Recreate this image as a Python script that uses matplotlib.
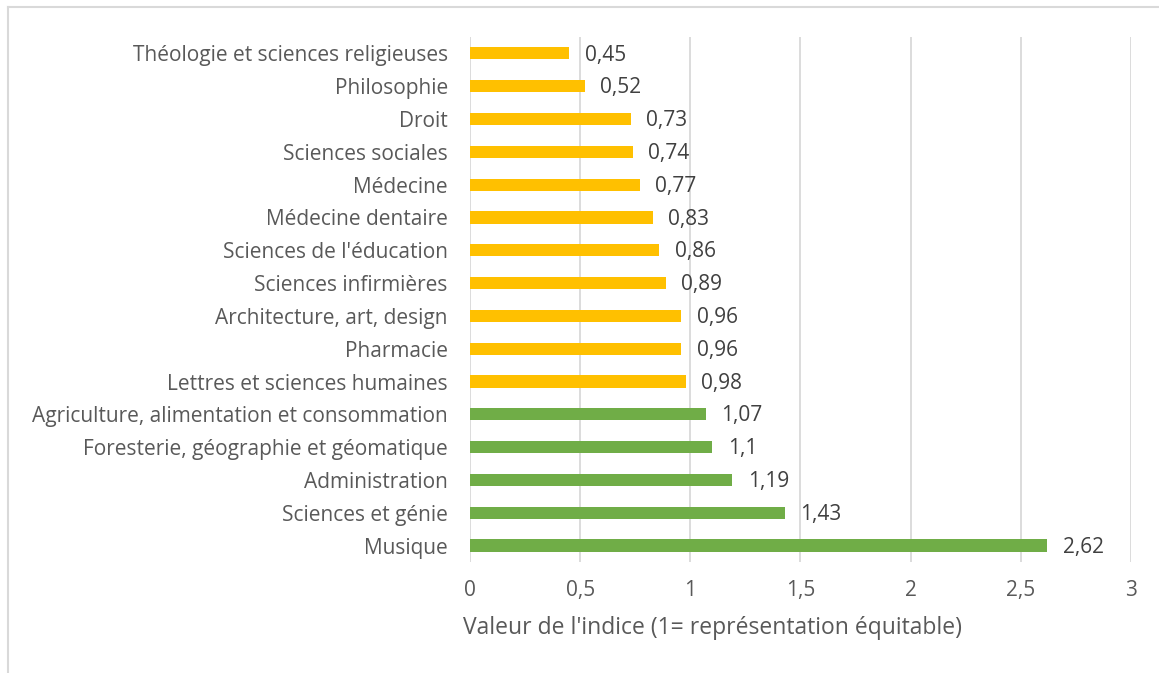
import matplotlib.pyplot as plt
from matplotlib.lines import Line2D

categories = [
    "Théologie et sciences religieuses",
    "Philosophie",
    "Droit",
    "Sciences sociales",
    "Médecine",
    "Médecine dentaire",
    "Sciences de l'éducation",
    "Sciences infirmières",
    "Architecture, art, design",
    "Pharmacie",
    "Lettres et sciences humaines",
    "Agriculture, alimentation et consommation",
    "Foresterie, géographie et géomatique",
    "Administration",
    "Sciences et génie",
    "Musique",
]
values = [0.45, 0.52, 0.73, 0.74, 0.77, 0.83, 0.86, 0.89, 0.96, 0.96, 0.98,
          1.07, 1.1, 1.19, 1.43, 2.62]
xticks = [0, 0.5, 1, 1.5, 2, 2.5, 3]

yellow = "#FFC000"
green = "#70AD47"
txt = "#595959"

plt.rcParams['font.family'] = ['Open Sans', 'DejaVu Sans']

fig = plt.figure(figsize=(11.59, 6.73), dpi=100)
ax = fig.add_axes([0.4055, 0.165, 0.5703, 0.78])

ypos = list(range(len(categories)))[::-1]
colors = [yellow if v < 1 else green for v in values]
ax.barh(ypos, values, height=0.37, color=colors, zorder=3)

for y, v in zip(ypos, values):
    lab = f"{v:g}".replace(".", ",")
    ax.text(v + 0.07, y - 0.05, lab, va="center", ha="left",
            fontsize=15, color="#404040")

ax.set_xlim(0, 3)
ax.set_ylim(-0.5, len(categories) - 0.5)
ax.set_xticks(xticks)
ax.set_xticklabels([f"{t:g}".replace(".", ",") for t in xticks])
ax.set_yticks(ypos)
ax.set_yticklabels(categories)
ax.tick_params(axis="both", length=0, labelsize=15, colors=txt)
ax.tick_params(axis="y", pad=16)
ax.tick_params(axis="x", pad=13)
ax.grid(axis="x", color="#D9D9D9", linewidth=1.3, zorder=0)
for s in ax.spines.values():
    s.set_visible(False)

# axis title sits left of the plot-area centre, as in the Excel original
fig.text(713/1159, 1 - 628/673,
         "Valeur de l'indice (1= représentation équitable)",
         fontsize=16.5, color=txt, ha="center", va="center")

# chart area border (top and left visible)
fig.add_artist(Line2D([8/1159, 1], [1 - 7/673, 1 - 7/673],
                      transform=fig.transFigure, color="#D9D9D9", lw=1.5))
fig.add_artist(Line2D([8/1159, 8/1159], [0, 1 - 7/673],
                      transform=fig.transFigure, color="#D9D9D9", lw=1.5))

fig.savefig("out.png", dpi=100)
